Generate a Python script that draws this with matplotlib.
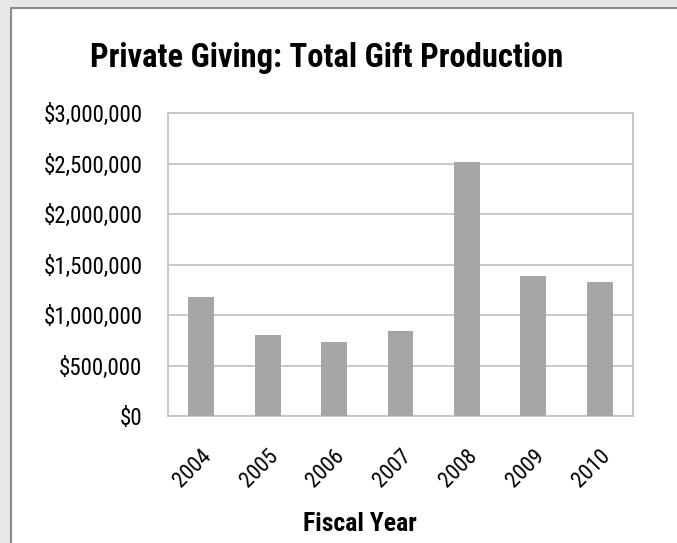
import matplotlib
matplotlib.use('Agg')
from matplotlib import pyplot as plt
from matplotlib.patches import Rectangle
from matplotlib.ticker import FuncFormatter, MultipleLocator

years = ['2004', '2005', '2006', '2007', '2008', '2009', '2010']
gifts = [1175000, 802000, 736000, 845000, 2512000, 1386000, 1330000]

plt.rcParams['font.family'] = ['Roboto Condensed', 'DejaVu Sans']

fig = plt.figure(figsize=(6.77, 5.43), dpi=100)
fig.patch.set_facecolor('white')

# grey page margin with a dark rule around the white chart area
fig.patches.append(Rectangle((0, 0), 1, 1, transform=fig.transFigure,
                             facecolor='#e6e7e8', edgecolor='none', zorder=-3))
fig.patches.append(Rectangle((11 / 677, -0.01), 1, 1 - 8 / 543 + 0.01, transform=fig.transFigure,
                             facecolor='white', edgecolor='#8a8a8a', linewidth=1.5, zorder=-2))

ax = fig.add_axes([168 / 677, (543 - 416) / 543, (633 - 168) / 677, (416 - 113) / 543])
ax.bar(years, gifts, width=0.39, color='#a6a6a6', zorder=3)
ax.set_ylim(0, 3000000)
ax.set_xlim(-0.5, 6.5)
ax.yaxis.set_major_locator(MultipleLocator(500000))
ax.yaxis.set_major_formatter(FuncFormatter(lambda v, p: '${:,.0f}'.format(v)))
ax.grid(axis='y', color='#c4c4c4', linewidth=1.3, zorder=0)
for s in ax.spines.values():
    s.set_color('#c4c4c4')
    s.set_linewidth(1.3)
ax.tick_params(length=0)
ax.tick_params(axis='y', pad=18.5, labelsize=16.5)
ax.tick_params(axis='x', pad=21, labelsize=16)
plt.setp(ax.get_xticklabels(), rotation=45, ha='right', rotation_mode='anchor')

# axis title sits a little left of the plot centre
ax.set_xlabel('Fiscal Year', fontsize=18.5, fontweight='bold', va='baseline')
ax.xaxis.set_label_coords(0.413, -(531 - 416) / 303)
fig.text(327 / 677, 1 - 67 / 543, 'Private Giving: Total Gift Production',
         ha='center', va='baseline', fontsize=23.5, fontweight='bold')

plt.savefig('out.png', dpi=100)
